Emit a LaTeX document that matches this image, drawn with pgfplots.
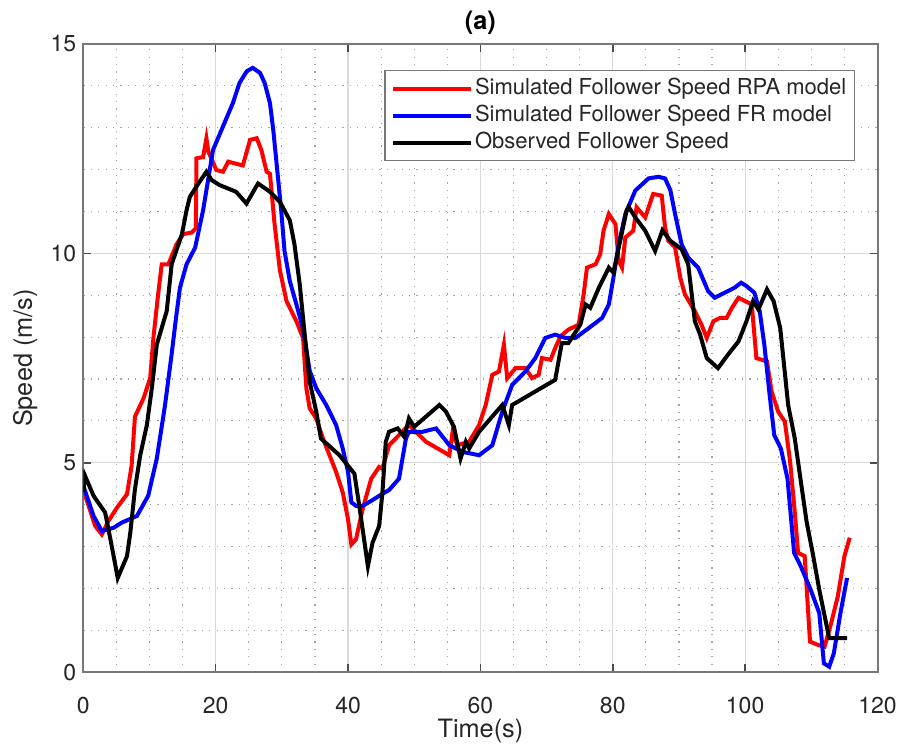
\documentclass[border=0pt]{standalone}
\usepackage{fontspec}
\setmainfont{TeX Gyre Heros}
\usepackage{pgfplots}
\pgfplotsset{compat=1.18}
\definecolor{axgray}{RGB}{120,120,120}
\definecolor{txtgray}{RGB}{38,38,38}
\begin{document}
\begin{tikzpicture}
\useasboundingbox (-41.65pt,-38.5pt) rectangle (409.75pt,336pt);
\begin{axis}[
  at={(0,0)}, anchor=south west,
  width=397pt, height=314pt, scale only axis,
  xmin=0, xmax=120, ymin=0, ymax=15,
  xtick={0,20,...,120}, ytick={0,5,10,15},
  minor x tick num=3, minor y tick num=4,
  grid=both,
  major grid style={draw=black!15, line width=0.6pt},
  minor grid style={draw=black!35, line width=0.6pt, dash pattern=on 0.6pt off 3.1pt},
  tick align=inside, major tick length=4pt, minor tick length=0pt,
  axis line style={draw=axgray, line width=1pt},
  every tick/.style={draw=black!70, line width=0.8pt},
  /pgf/number format/assume math mode=true,
  xticklabel style={font=\fontsize{11.5}{13}\selectfont, text=txtgray, anchor=north, yshift=-9pt},
  yticklabel style={font=\fontsize{11.5}{13}\selectfont, text=txtgray, anchor=east},
  xlabel={Time(s)}, ylabel={Speed (m/s)},
  xlabel style={font=\fontsize{12.65}{14}\selectfont, text=txtgray, at={(axis description cs:0.5,0)}, anchor=center, yshift=-29.5pt},
  ylabel style={font=\fontsize{12.65}{14}\selectfont, text=txtgray, at={(axis description cs:0,0.5)}, anchor=center, yshift=29pt},
  title={(a)},
  title style={font=\bfseries\fontsize{12.65}{14}\selectfont, text=black, at={(axis description cs:0.5,1)}, anchor=center, yshift=4.5pt},
  legend cell align=left,
  legend image code/.code={\draw[#1] (0pt,0pt) -- (39pt,0pt);},
  legend style={
    at={(1,1)}, anchor=north east, xshift=-11.25pt, yshift=-13pt,
    draw=axgray, line width=0.7pt, fill=white,
    inner xsep=3pt, inner ysep=3pt,
    font=\fontsize{11}{12}\selectfont, text=txtgray,
    nodes={inner xsep=1pt, inner ysep=1pt, text height=7.8pt, text depth=2.2pt},
    row sep=1.5pt,
  },
]
\addplot[red, line width=2pt] coordinates {
(0,4.25) (0.3,4.21) (1.8,3.49) (2.8,3.29) (3.8,3.61) (5.1,3.93) (6.6,4.25) (7.3,4.93) (7.8,6.1)
(9.1,6.54) (10.1,7.02) (10.6,8.0) (11.3,9.02) (11.85,9.74) (12.85,9.74) (14.1,10.22) (15.1,10.46)
(16.4,10.5) (17.0,10.6) (17.1,12.27) (18.1,12.3) (18.6,12.75) (18.9,12.43) (20.1,11.99) (21.1,11.95)
(21.9,12.19) (24.1,12.1) (25.2,12.71) (26.2,12.75) (26.9,12.47) (27.7,11.95) (28.2,11.9) (28.9,10.7)
(29.7,9.6) (30.7,8.86) (32.2,8.38) (33.2,7.98) (33.7,6.78) (34.2,6.3) (35.2,6.06) (36.2,5.58)
(37.2,5.18) (38.2,4.78) (39.2,4.29) (40.0,3.65) (40.5,3.05) (41.2,3.17) (42.2,3.89) (43.5,4.62)
(44.7,4.9) (45.2,4.86) (46.2,5.42) (49.2,5.9) (51.8,5.5) (55.3,5.18) (55.8,5.74) (56.5,5.42)
(58.3,5.5) (59.8,5.9) (60.8,6.38) (61.8,7.1) (62.8,7.18) (63.55,7.82) (64.05,7.02) (65.3,7.26)
(66.8,7.26) (67.8,7.02) (68.8,7.1) (69.3,7.5) (70.6,7.46) (71.3,7.74) (72.1,8.02) (73.3,8.18)
(74.85,8.3) (75.6,9.02) (76.1,9.66) (77.4,9.74) (78.1,9.98) (78.6,10.54) (79.4,10.94) (80.4,10.7)
(80.9,9.82) (81.4,9.66) (81.9,10.38) (83.1,10.54) (83.6,11.1) (84.9,10.86) (86.1,11.42) (87.4,11.38)
(87.9,10.62) (88.4,10.3) (89.4,10.15) (90.2,9.42) (90.9,9.02) (92.4,8.62) (93.4,8.3) (94.2,7.98)
(95.2,8.38) (96.2,8.46) (97.2,8.46) (98,8.7) (99,8.94) (100,8.86) (101,8.78) (101.7,7.5)
(103.3,7.42) (104,6.7) (105,6.22) (106,5.98) (106.8,5.02) (107.5,3.82) (108,2.85) (109,2.77)
(109.8,0.73) (111,0.65) (112,0.61) (113,1.17) (114,1.81) (115,2.77) (115.8,3.21)
};
\addlegendentry{Simulated Follower Speed RPA model}
\addplot[blue, line width=2pt] coordinates {
(0,4.45) (1.55,3.73) (2.8,3.37) (4.6,3.45) (5.8,3.57) (8.1,3.73) (9.8,4.21) (11.1,5.1) (12.35,6.38)
(13.35,7.6) (14.0,8.45) (14.6,9.18) (15.6,9.74) (16.9,10.14) (18.1,11.03) (19.6,12.47) (21.1,13.03)
(22.6,13.59) (23.6,14.07) (24.7,14.35) (25.6,14.43) (26.7,14.31) (27.4,14.07) (28.2,13.59) (28.7,12.95)
(29.2,12.15) (29.9,11.03) (30.4,10.06) (31.2,9.34) (32.2,8.78) (33.2,8.2) (34.2,7.2) (35.2,6.78)
(36.7,6.38) (38.2,5.9) (39.2,5.34) (40,4.78) (40.5,4.06) (41.2,3.97) (42.2,3.97) (43.5,4.09)
(44.7,4.21) (46.2,4.35) (47.7,4.62) (48.75,5.58) (49.2,5.74) (51.25,5.74) (53.3,5.82) (55.3,5.42)
(57.3,5.26) (59.8,5.18) (61.8,5.42) (63.3,6.22) (64.8,6.86) (66.8,7.18) (68.3,7.5) (69.8,7.98)
(71.3,8.06) (72.85,7.98) (74.35,7.98) (76.4,8.22) (78.4,8.46) (79.4,8.78) (80.1,9.42) (80.9,10.22)
(81.9,10.94) (83.4,11.5) (85.4,11.79) (86.9,11.83) (87.9,11.79) (88.7,11.51) (89.4,10.95) (90.4,10.22)
(91.4,9.9) (92.9,9.66) (94.4,9.1) (95.4,8.94) (96.9,9.06) (98.4,9.18) (99.4,9.3) (100.2,9.22)
(101.4,9.06) (102.2,8.62) (102.9,7.82) (103.7,6.62) (104.4,5.66) (105.4,5.34) (106.4,4.62) (107.4,2.85)
(108.4,2.53) (109.9,1.97) (111.2,1.41) (111.9,0.21) (112.7,0.13) (113.4,0.45) (114.4,1.41) (115.4,2.25)
};
\addlegendentry{Simulated Follower Speed FR model}
\addplot[black, line width=2pt] coordinates {
(0,4.3) (0.25,4.69) (1.55,4.21) (3.3,3.81) (4.1,3.17) (5.2,2.25) (6.6,2.77) (7.1,3.33) (7.8,4.37)
(8.6,5.18) (9.6,5.9) (10.35,6.78) (11.1,7.82) (12.6,8.62) (13.35,9.74) (14.9,10.46) (15.6,11.03)
(16.1,11.35) (17.4,11.67) (18.6,11.95) (19.4,11.75) (20.6,11.63) (23.1,11.47) (24.65,11.19) (26.4,11.67)
(28.2,11.47) (29.7,11.23) (31.2,10.79) (31.9,10.22) (32.7,9.26) (33.4,8.14) (34.2,6.94) (35.2,6.22)
(35.9,5.58) (38.7,5.18) (40.96,4.74) (41.7,3.97) (43,2.53) (43.7,3.09) (44.7,3.49) (45.2,4.3)
(45.7,5.5) (46.2,5.74) (47.5,5.82) (48.5,5.62) (49.2,6.06) (50.0,5.86) (53.8,6.38) (54.8,6.22)
(56.0,5.86) (57.0,5.1) (57.8,5.5) (58.3,5.34) (59.8,5.74) (63.3,6.38) (64.3,5.9) (64.8,6.38)
(71.3,6.98) (72.3,7.86) (73.3,7.86) (75.1,8.3) (75.9,8.78) (76.6,8.7) (77.9,9.18) (79.4,9.66)
(80.1,9.54) (82.1,11.03) (82.4,11.11) (83.4,10.86) (84.9,10.54) (86.4,10.06) (87.5,10.55) (88.7,10.3)
(90.4,10.1) (91.4,9.74) (92.4,8.38) (93.2,8.06) (94.2,7.5) (95.9,7.26) (97.4,7.58) (99,7.9)
(100.2,8.38) (101.2,8.86) (102,8.66) (103.3,9.14) (104.3,8.86) (105.3,8.22) (106.5,6.38) (107.5,5.58)
(108.5,4.46) (109.3,3.58) (110.2,2.85) (111.2,1.97) (112.7,0.81) (114,0.81) (115.4,0.81)
};
\addlegendentry{Observed Follower Speed}
\end{axis}
\end{tikzpicture}
\end{document}
